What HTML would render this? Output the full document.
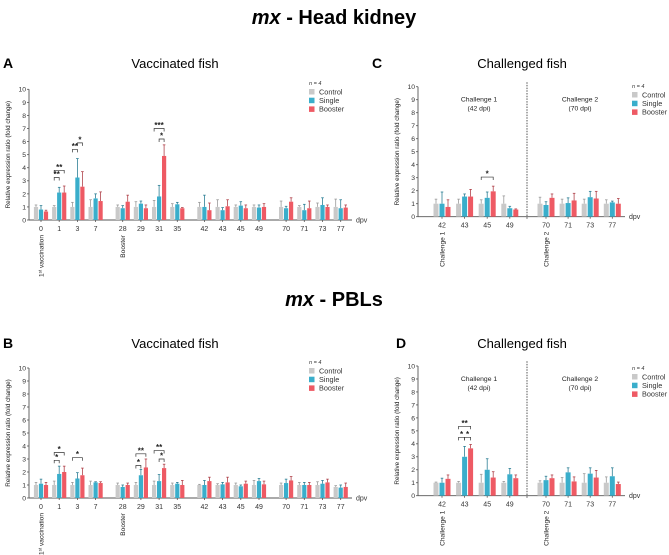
<!DOCTYPE html>
<html><head><meta charset="utf-8"><style>
html,body{margin:0;padding:0;background:#fff;}
svg{display:block;font-family:"Liberation Sans",sans-serif;}
</style></head><body>
<svg id="fig" width="669" height="555" viewBox="0 0 669 555">
<text x="334" y="24" text-anchor="middle" font-size="20" font-weight="bold"><tspan font-style="italic">mx</tspan> - Head kidney</text>
<text x="334" y="306" text-anchor="middle" font-size="20" font-weight="bold"><tspan font-style="italic">mx</tspan> - PBLs</text>
<g id="root"></g>
</svg>
<script>
// ---- data ----
const seriesNames = ["Control","Single","Booster"];
const colors = ["#c9c9c9","#3aaecb","#ee5a64"];
const errColors = ["#9a9a9a","#2d7f95","#b0434b"];
const yTicks = [0,1,2,3,4,5,6,7,8,9,10];
const vacCategories = ["0","1","3","7","28","29","31","35","42","43","45","49","70","71","73","77"];
const chalCategories = ["42","43","45","49","70","71","73","77"];

const aControl = [1,1,1,1,1,1,1,1,1,1,1,1,1,1,1,1];
const aSingle  = [0.8,2.1,3.25,1.65,0.9,1.25,1.8,1.2,1,0.75,1.1,0.95,0.9,0.75,1.15,0.9];
const aBooster = [0.65,2.1,2.55,1.45,1.4,0.9,4.9,0.9,0.75,1.05,0.9,1,1.4,0.9,1,0.95];
const aErrC = [0.15,0.1,0.35,0.55,0.15,0.4,0.5,0.25,0.35,0.55,0.15,0.15,0.45,0.1,0.3,0.6];
const aErrS = [0.3,0.4,1.45,0.35,0.2,0.2,0.85,0.15,0.9,0.2,0.3,0.2,0.15,0.45,0.55,0.65];
const aErrB = [0.1,0.5,1.15,0.7,0.5,0.25,0.85,0.05,0.55,0.5,0.25,0.25,0.3,0.55,0.15,0.2];
const aSig = [[1,0,1,3.25,"**"],[1,0,2,3.8,"**"],[2,0,1,5.4,"**"],[2,1,2,5.9,"*"],[6,1,2,6.2,"*"],[6,0,2,7.0,"***"]];

const bControl = [1,1,1,1,1,1,1,1,1,1,1,1,1,1,1,0.85];
const bSingle  = [1.1,1.85,1.5,1.2,0.85,1.75,1.3,1.1,1,1.05,0.9,1.3,1.15,1,1.1,0.8];
const bBooster = [1,2,1.75,1.15,1,2.35,2.3,1,1.3,1.2,1.1,1.05,1.35,1,1.2,0.85];
const bErrC = [0.2,0.3,0.2,0.3,0.15,0.2,0.3,0.15,0.05,0.1,0.15,0.35,0.15,0.2,0.25,0.1];
const bErrS = [0.35,0.6,0.45,0.05,0.15,0.45,0.5,0.1,0.35,0.15,0.1,0.2,0.3,0.2,0.25,0.2];
const bErrB = [0.2,0.45,0.55,0.1,0.15,0.65,0.3,0.35,0.3,0.4,0.2,0.25,0.3,0.2,0.25,0.3];
const bSig = [[1,0,1,2.9,"*"],[1,0,2,3.5,"*"],[2,0,2,3.1,"*"],[5,0,1,2.5,"*"],[5,0,2,3.4,"**"],[6,1,2,3.0,"*"],[6,0,2,3.65,"**"]];

const cControl = [1,1,1,1,1,1,1,1];
const cSingle  = [1,1.55,1.45,0.65,0.9,1.05,1.5,1.1];
const cBooster = [0.75,1.55,1.95,0.55,1.45,1.25,1.4,1];
const cErrC = [0.35,0.35,0.3,0.6,0.5,0.35,0.35,0.3];
const cErrS = [0.9,0.2,0.45,0.15,0.25,0.4,0.45,0.1];
const cErrB = [0.55,0.55,0.4,0.05,0.3,0.55,0.55,0.4];
const cSig = [[2,0,2,3.05,"*"]];

const dControl = [1,1,1,1,1,1,1,1];
const dSingle  = [1,3,2,1.65,1.2,1.8,1.7,1.5];
const dBooster = [1.3,3.65,1.4,1.35,1.35,1.1,1.4,0.9];
const dErrC = [0.05,0.1,0.65,0.1,0.15,0.4,0.7,0.45];
const dErrS = [0.35,0.8,0.85,0.45,0.3,0.35,0.45,0.65];
const dErrB = [0.3,0.3,0.45,0.25,0.25,0.35,0.55,0.15];
const dSig = [[1,0,1,4.5,"*"],[1,1,2,4.5,"*"],[1,0,2,5.35,"**"]];

// ---- drawing ----
const NS="http://www.w3.org/2000/svg";
const root=document.getElementById("root");
function el(tag,attrs,parent,txt){const e=document.createElementNS(NS,tag);for(const k in attrs)e.setAttribute(k,attrs[k]);if(txt!==undefined)e.textContent=txt;(parent||root).appendChild(e);return e;}

function panel(cfg){
  const g=el("g",{});
  
  
  const y=v=>cfg.y0-v*cfg.ppu;
  const x=i=>cfg.cx(i);
  const L=el("text",{x:cfg.letterX,y:cfg.titleY+5,"font-size":14,"font-weight":"bold"},g,cfg.letter);
  
  
  const T=el("text",{x:cfg.titleX,y:cfg.titleY+5,"font-size":13,"text-anchor":"middle"},g,cfg.title);
  
  
  const ya=el("line",{x1:cfg.ax,x2:cfg.ax,y1:y(0),y2:y(10),stroke:"#555","stroke-width":0.9},g);
  
  
  yTicks.forEach(t=>{
    el("line",{x1:cfg.ax-2,x2:cfg.ax,y1:y(t),y2:y(t),stroke:"#555","stroke-width":0.8},g);
    const tl=el("text",{x:cfg.ax-3,y:y(t)+2.4,"font-size":6.8,"text-anchor":"end",fill:"#333"},g,t);
    
    
  });
  const yt=el("text",{transform:`translate(${cfg.ax-19},${(y(0)+y(10))/2}) rotate(-90)`,"font-size":6.3,"text-anchor":"middle",fill:"#222"},g,"Relative expression ratio (fold change)");
  
  
  const xa=el("line",{x1:cfg.ax,x2:cfg.axEnd,y1:y(0),y2:y(0),stroke:"#555","stroke-width":0.9},g);
  
  
  const dp=el("text",{x:cfg.axEnd+4,y:y(0)+2.5,"font-size":7,fill:"#333"},g,"dpv");
  
  
  cfg.cats.forEach((c,i)=>{
    el("line",{x1:x(i),x2:x(i),y1:y(0),y2:y(0)+2,stroke:"#555","stroke-width":0.8},g);
    const tl=el("text",{x:x(i),y:y(0)+11,"font-size":7,"text-anchor":"middle",fill:"#333"},g,c);
    
    
  });
  const vals=[cfg.c,cfg.s,cfg.b], errs=[cfg.ec,cfg.es,cfg.eb];
  cfg.cats.forEach((c,i)=>{
    for(let k=0;k<3;k++){
      const bx=x(i)+(k-1)*cfg.step-cfg.bw/2, v=vals[k][i], e=errs[k][i];
      const top=y(v+e), mid=bx+cfg.bw/2;
      const ln=el("line",{x1:mid,x2:mid,y1:y(v),y2:top,stroke:errColors[k],"stroke-width":0.8},g);
      
      
      el("line",{x1:mid-1.3,x2:mid+1.3,y1:top,y2:top,stroke:errColors[k],"stroke-width":0.8},g);
      const r=el("rect",{x:bx,y:y(v),width:cfg.bw,height:v*cfg.ppu,fill:colors[k]},g);
      
      
    }
  });
  cfg.sig.forEach(sg=>{
    const [gi,a,b,lvl,lab]=sg;
    const xa1=x(gi)+(a-1)*cfg.step, xb1=x(gi)+(b-1)*cfg.step, yy=y(lvl);
    const p=el("path",{d:`M${xa1},${yy+3}V${yy}H${xb1}V${yy+3}`,fill:"none",stroke:"#333","stroke-width":0.7},g);
    
    
    const t=el("text",{x:(xa1+xb1)/2,y:yy-0.5,"font-size":8,"font-weight":"bold","text-anchor":"middle",fill:"#222"},g,lab);
    
    
  });
  cfg.events.forEach(ev=>{
    const t=el("text",{transform:`translate(${x(ev[0])+2.5},${y(0)+15}) rotate(-90)`,"font-size":6.6,"text-anchor":"end",fill:"#222"},g);
    
    
    if(ev[1]==="1st vaccination"){
      el("tspan",{},t,"1");el("tspan",{"font-size":4.5,dy:-2},t,"st");el("tspan",{dy:2},t," vaccination");
    } else t.textContent=ev[1];
  });
  if(cfg.sep){
    const s=el("line",{x1:cfg.sep,x2:cfg.sep,y1:y(0)+2,y2:y(10)-5,stroke:"#444","stroke-width":0.9,"stroke-dasharray":"1.5,1.2"},g);
    
    
    cfg.chalLabels.forEach(cl=>{
      const t=el("text",{x:cl[0],y:y(10)+15,"font-size":6.8,"text-anchor":"middle",fill:"#222"},g,cl[1]);
      
      
      el("text",{x:cl[0],y:y(10)+24,"font-size":6.8,"text-anchor":"middle",fill:"#222"},g,cl[2]);
    });
  }
  const lg=el("g",{},g);
  
  
  el("text",{x:cfg.legX,y:cfg.legY,"font-size":5.5,"font-style":"italic",fill:"#333"},lg,"n = 4");
  seriesNames.forEach((n,k)=>{
    const yy=cfg.legY+4+k*8.7;
    el("rect",{x:cfg.legX,y:yy,width:5.5,height:5.5,fill:colors[k]},lg);
    const t=el("text",{x:cfg.legX+10,y:yy+5.3,"font-size":7.3,fill:"#333"},lg,n);
    
    
  });
}
const vacCx=i=>41+Math.floor(i/4)*81.7+(i%4)*18.2;
const chalCx=i=>(i<4?442+i*22.6:546+(i-4)*22.1);

panel({name:"panel-a",letter:"A",letterX:3,title:"Vaccinated fish",titleX:175,titleY:63,ax:29,axEnd:352,y0:220,ppu:13.07,cx:vacCx,cats:vacCategories,
  c:aControl,s:aSingle,b:aBooster,ec:aErrC,es:aErrS,eb:aErrB,sig:aSig,bw:4.2,step:5,events:[[0,"1st vaccination"],[4,"Booster"]],legX:309,legY:85});
panel({name:"panel-b",letter:"B",letterX:3,title:"Vaccinated fish",titleX:175,titleY:343,ax:29,axEnd:352,y0:498,ppu:13.0,cx:vacCx,cats:vacCategories,
  c:bControl,s:bSingle,b:bBooster,ec:bErrC,es:bErrS,eb:bErrB,sig:bSig,bw:4.2,step:5,events:[[0,"1st vaccination"],[4,"Booster"]],legX:309,legY:364});
panel({name:"panel-c",letter:"C",letterX:372,title:"Challenged fish",titleX:522,titleY:63,ax:418,axEnd:625,y0:216.7,ppu:13.0,cx:chalCx,cats:chalCategories,
  c:cControl,s:cSingle,b:cBooster,ec:cErrC,es:cErrS,eb:cErrB,sig:cSig,bw:5,step:6,events:[[0,"Challenge 1"],[4,"Challenge 2"]],
  sep:527,chalLabels:[[479,"Challenge 1","(42 dpi)"],[580,"Challenge 2","(70 dpi)"]],legX:632,legY:88});
panel({name:"panel-d",letter:"D",letterX:396,title:"Challenged fish",titleX:522,titleY:343,ax:418,axEnd:625,y0:495.7,ppu:12.97,cx:chalCx,cats:chalCategories,
  c:dControl,s:dSingle,b:dBooster,ec:dErrC,es:dErrS,eb:dErrB,sig:dSig,bw:5,step:6,events:[[0,"Challenge 1"],[4,"Challenge 2"]],
  sep:527,chalLabels:[[479,"Challenge 1","(42 dpi)"],[580,"Challenge 2","(70 dpi)"]],legX:632,legY:370});
</script>
</body></html>
